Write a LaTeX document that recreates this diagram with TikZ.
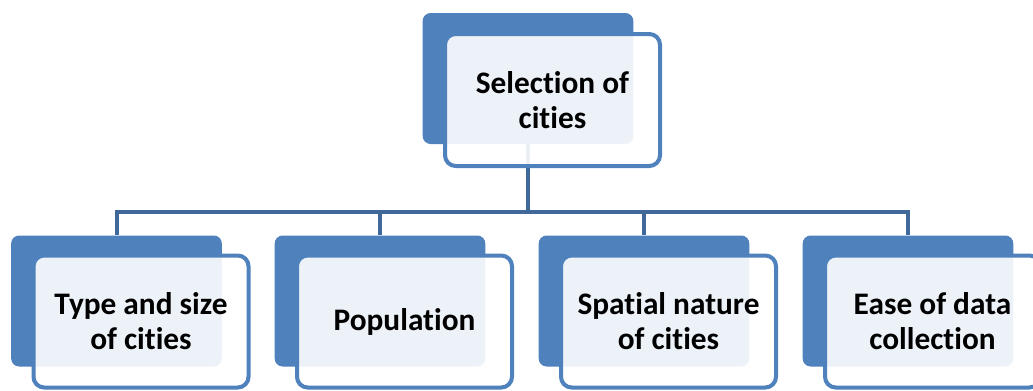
\documentclass[tikz,border=0pt]{standalone}
\usepackage{fontspec}
\setmainfont{Carlito}[RawFeature=-liga]
\usetikzlibrary{calc}

\definecolor{accent}{RGB}{79,129,189}
\definecolor{linkblue}{RGB}{64,104,153}

\tikzset{
  backbox/.style={fill=accent, draw=none, rounded corners=6pt,
    minimum width=158pt, minimum height=98.25pt, inner sep=0pt},
  frontbox/.style={fill=white, fill opacity=0.9, text opacity=1,
    draw=accent, line width=3pt, rounded corners=8pt,
    minimum width=161.25pt, minimum height=99pt, inner sep=0pt,
    align=center, text=black,
    font=\bfseries\fontsize{23.5pt}{26.25pt}\selectfont},
  conn/.style={draw=linkblue, line width=3pt},
}

\begin{document}
\begin{tikzpicture}[x=0.75pt, y=-0.75pt]
  \useasboundingbox (0,0) rectangle (1033,390);
  \clip (0,0) rectangle (1033,390);
  \fill[white] (0,0) rectangle (1033,390);

  % shaded back plates
  \node[backbox] (selB) at (528,78.5) {};
  \node[backbox] (typB) at (116.5,301) {};
  \node[backbox] (popB) at (380,301) {};
  \node[backbox] (spaB) at (644,301) {};
  \node[backbox] (easB) at (908,301) {};

  % hierarchy connectors
  \draw[conn] (selB.south) |- ($(typB.north)+(0,-23)$) -- (typB.north);
  \draw[conn] (selB.south) |- ($(popB.north)+(0,-23)$) -- (popB.north);
  \draw[conn] (selB.south) |- ($(spaB.north)+(0,-23)$) -- (spaB.north);
  \draw[conn] (selB.south) |- ($(easB.north)+(0,-23)$) -- (easB.north);

  % front cards with labels
  \node[frontbox] (selF) at ($(selB)+(24.5,21.5)$) {Selection of\\cities};
  \node[frontbox] (typF) at ($(typB)+(24.5,20.5)$) {Type and size\\of cities};
  \node[frontbox] (popF) at ($(popB)+(24.5,20.5)$) {Population};
  \node[frontbox] (spaF) at ($(spaB)+(24.5,20.5)$) {Spatial nature\\of cities};
  \node[frontbox] (easF) at ($(easB)+(24.5,20.5)$) {Ease of data\\collection};
\end{tikzpicture}
\end{document}
